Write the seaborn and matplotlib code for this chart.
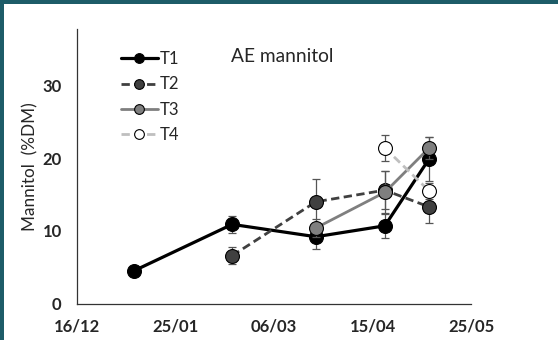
import matplotlib
matplotlib.use("Agg")
import matplotlib.pyplot as plt
import matplotlib.dates as mdates
from matplotlib.patches import Rectangle
from matplotlib.lines import Line2D
import seaborn as sns
import pandas as pd

# ---- data ----
t1_dates = ["2013-01-08", "2013-02-17", "2013-03-23", "2013-04-20", "2013-05-08"]
t1_vals = [4.5, 10.9, 9.2, 10.7, 19.9]
t1_err = [0.3, 1.2, 1.7, 1.7, 3.0]

t2_dates = ["2013-02-17", "2013-03-23", "2013-04-20", "2013-05-08"]
t2_vals = [6.6, 14.0, 15.6, 13.3]
t2_err = [1.2, 3.2, 2.6, 2.2]

t3_dates = ["2013-03-23", "2013-04-20", "2013-05-08"]
t3_vals = [10.4, 15.3, 21.4]
t3_err = [1.2, 3.0, 1.5]

t4_dates = ["2013-04-20", "2013-05-08"]
t4_vals = [21.4, 15.5]
t4_err = [1.8, 1.1]

series_names = ["T1", "T2", "T3", "T4"]
tick_dates = ["2012-12-16", "2013-01-25", "2013-03-06", "2013-04-15", "2013-05-25"]
y_ticks = [0, 10, 20, 30]
title_text = "AE mannitol"
ylabel_text = "Mannitol  (%DM)"

sns.set_style("white")
plt.rcParams["font.family"] = ["Lato", "DejaVu Sans"]

fig = plt.figure(figsize=(5.58, 3.40), dpi=100)
fig.patch.set_facecolor("#1d5c68")
fig.patches.append(Rectangle((4 / 558, 0), 1, 1 - 4 / 340, transform=fig.transFigure,
                             facecolor="white", edgecolor="none", zorder=-10))
ax = fig.add_axes([77 / 558, 1 - 303.7 / 340, (471 - 77) / 558, (303.7 - 29.3) / 340])
ax.set_zorder(1)
ax.set_facecolor("none")

styles = [
    dict(color="black", ls="-", mfc="black", lw=2.3),
    dict(color="#404040", ls=(0, (3, 1.6)), mfc="#404040", lw=2.0),
    dict(color="#7f7f7f", ls="-", mfc="#7f7f7f", lw=2.0),
    dict(color="#bfbfbf", ls=(0, (3, 1.6)), mfc="white", lw=2.0),
]
all_data = [(t1_dates, t1_vals, t1_err), (t2_dates, t2_vals, t2_err),
            (t3_dates, t3_vals, t3_err), (t4_dates, t4_vals, t4_err)]

handles = []
for i, ((d, v, e), st, name) in enumerate(zip(all_data, styles, series_names)):
    df = pd.DataFrame({"date": pd.to_datetime(d), "val": v, "err": e})
    ax.errorbar(df["date"], df["val"], yerr=df["err"], fmt="none", ecolor="#555555",
                elinewidth=0.9, capsize=3, capthick=0.9, zorder=2 + i)
    sns.lineplot(data=df, x="date", y="val", ax=ax, color=st["color"], linestyle=st["ls"],
                 linewidth=st["lw"], marker="o", markersize=10, markerfacecolor=st["mfc"],
                 markeredgecolor="black", markeredgewidth=0.8, zorder=3 + i)
    handles.append(Line2D([], [], color=st["color"], linestyle=st["ls"], linewidth=st["lw"],
                          marker="o", markersize=7, markerfacecolor=st["mfc"],
                          markeredgecolor="black", markeredgewidth=0.8, label=name))

ax.set_xlim(pd.to_datetime(tick_dates[0]), pd.to_datetime(tick_dates[-1]))
ax.set_ylim(0, 37.7)
ax.set_xticks(pd.to_datetime(tick_dates))
ax.xaxis.set_major_formatter(mdates.DateFormatter("%d/%m"))
ax.set_yticks(y_ticks)
ax.tick_params(axis="both", which="major", direction="out", length=4, width=0.9,
               color="#333333", labelsize=12, pad=7)
for lab in ax.get_xticklabels() + ax.get_yticklabels():
    lab.set_fontweight("bold")
ax.tick_params(axis="x", pad=7)

for s in ["top", "right"]:
    ax.spines[s].set_visible(False)
for s in ["left", "bottom"]:
    ax.spines[s].set_color("#333333")
    ax.spines[s].set_linewidth(0.9)

ax.set_xlabel("")
ax.set_ylabel(ylabel_text, fontsize=12.3, labelpad=3)
ax.text(0.52, 0.9, title_text, transform=ax.transAxes, ha="center", va="center", fontsize=13.8)

leg = ax.legend(handles=handles, loc="upper left", bbox_to_anchor=(0.095, 0.945), frameon=False,
                fontsize=12, handlelength=2.2, handletextpad=0.1, labelspacing=0.56,
                borderaxespad=0)

fig.savefig("out.png", dpi=100, facecolor=fig.get_facecolor())
